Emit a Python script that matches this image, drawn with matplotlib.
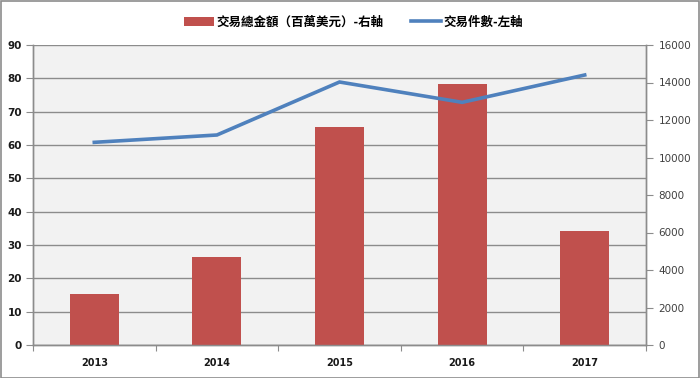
import matplotlib
matplotlib.use("Agg")
import matplotlib.pyplot as plt
import numpy as np
from matplotlib.ticker import FixedLocator, MultipleLocator
from matplotlib.patches import Rectangle, Patch
from matplotlib.lines import Line2D

years = ["2013", "2014", "2015", "2016", "2017"]
amount_musd = [2700, 4710, 11650, 13900, 6100]    # right axis, bars
deal_count = [60.8, 63.0, 78.9, 72.8, 81.0]        # left axis, line

bar_label = "交易總金額（百萬美元）-右軸"
line_label = "交易件數-左軸"

bar_color = "#C0504D"
line_color = "#4F81BD"
grid_color = "#8C8C8C"
bg_color = "#F2F2F2"

cjk = ["Noto Sans CJK TC", "DejaVu Sans"]

fig = plt.figure(figsize=(7.0, 3.78), dpi=100)
fig.patch.set_facecolor("white")

W, H = 700, 378
left, right, top, bottom = 33, 646, 45, 345
ax = fig.add_axes([left / W, 1 - bottom / H, (right - left) / W, (bottom - top) / H])
ax.set_facecolor(bg_color)

x = np.arange(len(years))

ax.set_xlim(-0.5, len(years) - 0.5)
ax.set_ylim(0, 90)
ax.yaxis.set_major_locator(MultipleLocator(10))
ax.grid(axis="y", color=grid_color, linewidth=1.0)
ax.set_axisbelow(True)

# bars on right axis
ax2 = ax.twinx()
ax2.set_ylim(0, 16000)
ax2.yaxis.set_major_locator(MultipleLocator(2000))
ax2.bar(x, amount_musd, width=0.4, color=bar_color, zorder=2)

# line on a third axes sharing the left scale, drawn on top
ax3 = ax.twinx()
ax3.set_ylim(0, 90)
ax3.plot(x, deal_count, color=line_color, linewidth=2.6, solid_joinstyle="miter", zorder=3)
ax3.set_axis_off()

# x ticks: labels at centres, tick marks at boundaries
ax.set_xticks(x)
ax.set_xticklabels(years, fontsize=7, fontweight="bold", color="#1a1a1a")
ax.tick_params(axis="x", length=0, pad=9)
ax.xaxis.set_minor_locator(FixedLocator(np.arange(-0.5, len(years), 1.0)))
ax.tick_params(axis="x", which="minor", length=4, color=grid_color, width=0.8)

ax.tick_params(axis="y", length=5, color=grid_color, width=0.8, labelsize=7.5, pad=3,
               labelcolor="#1a1a1a")
for lab in ax.get_yticklabels():
    lab.set_fontweight("bold")
ax2.tick_params(axis="y", length=5, color=grid_color, width=0.8, labelsize=7.5, pad=4,
                labelcolor="#404040")

for a in (ax, ax2):
    a.spines["top"].set_visible(False)
    for s in ("left", "right", "bottom"):
        a.spines[s].set_color(grid_color)
        a.spines[s].set_linewidth(1.0)

# legend
handles = [Patch(facecolor=bar_color, edgecolor="none"),
           Line2D([0], [0], color=line_color, linewidth=2.6)]
leg = fig.legend(handles, [bar_label, line_label], loc="center",
                 bbox_to_anchor=(0.505, 1 - 22 / H), ncol=2, frameon=False,
                 handlelength=2.4, handleheight=0.7, handletextpad=0.2,
                 columnspacing=2.2, prop={"family": cjk, "size": 9, "weight": "bold"})

# outer frame
fig.add_artist(Rectangle((0.5 / W, 0.5 / H), 1 - 1.5 / W, 1 - 1.5 / H,
                         transform=fig.transFigure, fill=False,
                         edgecolor="#8C8C8C", linewidth=1.2))

fig.savefig("out.png", dpi=100)
